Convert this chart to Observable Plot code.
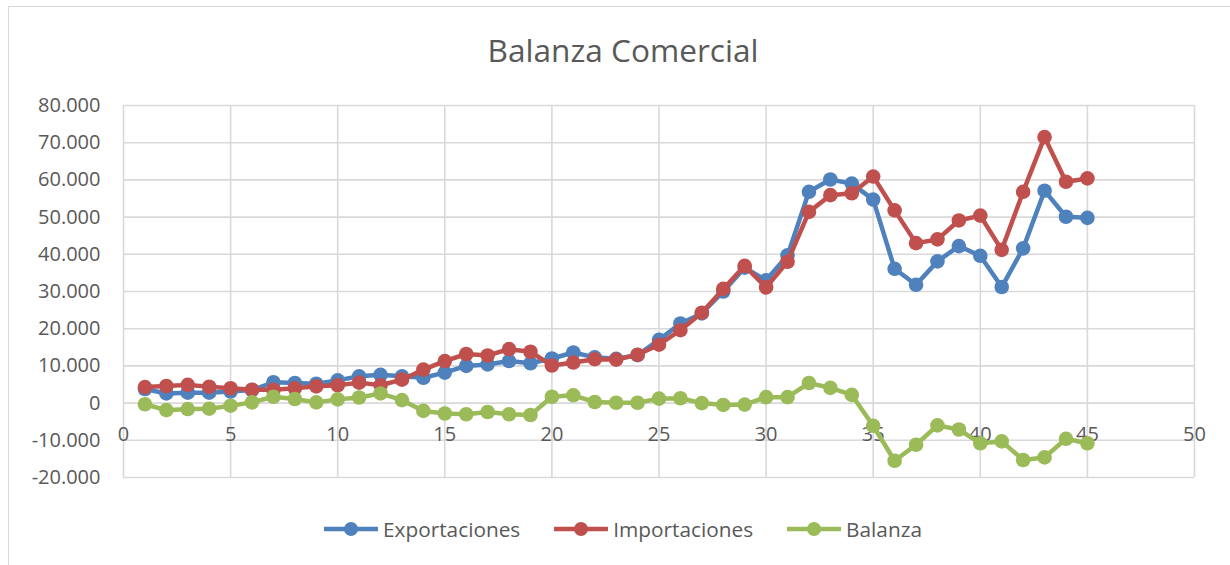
<!DOCTYPE html>
<html><head><meta charset="utf-8">
<script src="https://cdn.jsdelivr.net/npm/d3@7"></script>
<script src="https://cdn.jsdelivr.net/npm/@observablehq/plot@0.6"></script>
<style>
html,body{margin:0;padding:0;background:#fff;overflow:hidden;width:1230px;height:565px;font-family:"Open Sans",sans-serif;}
#wrap{position:relative;width:1230px;height:565px;overflow:hidden;}
#frame{position:absolute;left:8px;top:6px;width:1260px;height:620px;border:1.5px solid #d9d9d9;box-sizing:border-box;}
#title{position:absolute;left:8px;width:1230px;top:34px;text-align:center;font-size:31.6px;line-height:31px;color:#595959;white-space:nowrap;}
#chart{position:absolute;left:0;top:0;}
#legend{position:absolute;left:8px;width:1230px;top:517px;height:24px;display:flex;justify-content:center;align-items:center;gap:34px;font-size:20.8px;line-height:24px;color:#595959;}
.item{display:flex;align-items:center;gap:5px;}
.item svg{display:block;}
</style></head>
<body>
<div id="wrap">
  <div id="frame"></div>
  <div id="chart"></div>
  <div id="title">Balanza Comercial</div>
  <div id="legend"></div>
</div>
<script>
// ---- data ----
const periodos = [1,2,3,4,5,6,7,8,9,10,11,12,13,14,15,16,17,18,19,20,21,22,23,24,25,26,27,28,29,30,31,32,33,34,35,36,37,38,39,40,41,42,43,44,45];
const exportaciones = [3800,2600,2800,2800,3100,3500,5600,5400,5200,6100,7200,7600,7200,6800,8200,10000,10400,11300,10700,12000,13600,12300,11900,12900,17000,21400,24100,30000,36400,33000,39700,56800,60100,59000,54700,36100,31800,38100,42200,39600,31200,41600,57100,50100,49800];
const importaciones = [4300,4600,4900,4400,4000,3600,3600,4000,4500,4800,5500,4800,6300,9000,11300,13200,12800,14500,13800,10100,10900,11800,11700,13000,15700,19600,24300,30700,36900,31100,38000,51400,55900,56400,60900,51800,43000,44000,49100,50400,41200,56800,71500,59500,60400];
const balanza = [-300,-1900,-1600,-1500,-700,200,1700,1100,200,1000,1500,2600,800,-2100,-2800,-3000,-2400,-3000,-3200,1700,2100,300,100,100,1200,1300,0,-500,-400,1600,1600,5400,4100,2200,-6100,-15500,-11200,-6000,-7100,-10800,-10300,-15300,-14600,-9600,-10800];
const seriesNames = ["Exportaciones","Importaciones","Balanza"];
const seriesColors = ["#4f81bd","#c0504d","#9bbb59"];
const xTicks = [0,5,10,15,20,25,30,35,40,45,50];
const yTicks = [-20000,-10000,0,10000,20000,30000,40000,50000,60000,70000,80000];

// ---- build ----
const seriesValues = [exportaciones, importaciones, balanza];
const fmt = d => d === 0 ? "0" : d3.format(",")(d).replace(/,/g, ".").replace("\u2212", "-");
const gray = "#d9d9d9";
const txt = "#595959";

const seriesMarks = [];
seriesValues.forEach((vals, s) => {
  const data = vals.map((v, i) => ({x: periodos[i], y: v}));
  seriesMarks.push(Plot.line(data, {x: "x", y: "y", stroke: seriesColors[s], strokeWidth: 4.5, strokeLinejoin: "round"}));
  seriesMarks.push(Plot.dot(data, {x: "x", y: "y", r: 7.3, fill: seriesColors[s], stroke: null}));
});

const chart = Plot.plot({
  width: 1230,
  height: 500,
  marginTop: 105,
  marginBottom: 23,
  marginLeft: 123,
  marginRight: 36,
  style: {fontFamily: '"Open Sans", sans-serif', background: "transparent", overflow: "visible"},
  x: {domain: [0, 50], axis: null},
  y: {domain: [-20000, 80000], axis: null},
  marks: [
    Plot.gridX(xTicks, {stroke: gray, strokeOpacity: 1, strokeWidth: 1.6}),
    Plot.gridY(yTicks, {stroke: gray, strokeOpacity: 1, strokeWidth: 1.6}),
    Plot.axisY(yTicks, {tickSize: 0, tickPadding: 23, fontSize: 20, fill: txt, tickFormat: fmt, label: null}),
    Plot.text(xTicks, {x: d => d, y: () => 0, dy: 31, text: d => String(d), fontSize: 20, fill: txt}),
    ...seriesMarks
  ]
});
document.getElementById("chart").appendChild(chart);

// ---- legend ----
const legend = document.getElementById("legend");
seriesNames.forEach((name, s) => {
  const item = document.createElement("div");
  item.className = "item";
  item.innerHTML = `<svg width="54" height="16"><line x1="1" y1="8" x2="53" y2="8" stroke="${seriesColors[s]}" stroke-width="4.5" stroke-linecap="round"/><circle cx="27" cy="8" r="7" fill="${seriesColors[s]}"/></svg><span>${name}</span>`;
  legend.appendChild(item);
});
</script>
</body></html>
